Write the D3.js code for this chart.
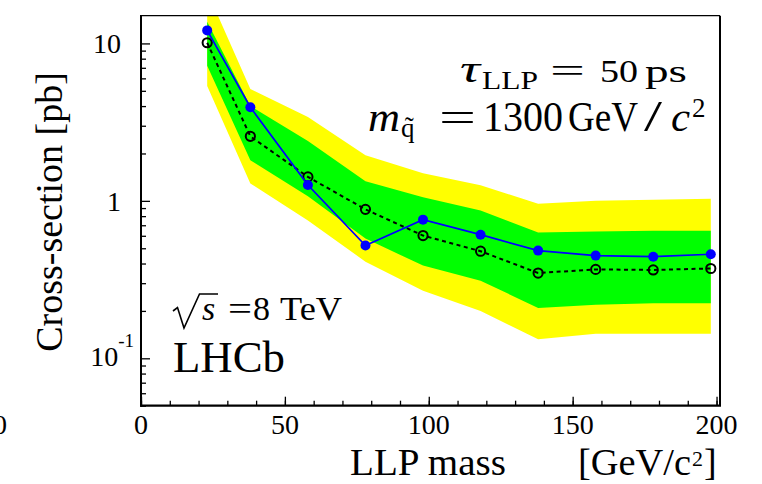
<!DOCTYPE html>
<html><head><meta charset="utf-8">
<script src="https://cdn.jsdelivr.net/npm/d3@7"></script>
<style>body{margin:0;background:#fff} svg{display:block}</style>
</head><body>
<svg id="c" width="762" height="484"></svg>
<script>
// ---- data ----
const mass      = [23, 38, 58, 78, 98, 118, 138, 158, 178, 198];
const observed  = [12.1, 3.93, 1.26, 0.52, 0.76, 0.61, 0.483, 0.449, 0.442, 0.458];
const expected  = [10.1, 2.57, 1.42, 0.883, 0.602, 0.479, 0.348, 0.367, 0.364, 0.372];
const band1Lo   = [7.21, 1.81, 1.07, 0.576, 0.388, 0.311, 0.209, 0.219, 0.224, 0.224];
const band1Hi   = [13.75, 4.0, 2.40, 1.33, 1.053, 0.870, 0.63, 0.64, 0.645, 0.645];
const band2Lo   = [5.37, 1.29, 0.751, 0.411, 0.269, 0.200, 0.132, 0.143, 0.143, 0.143];
const band2Hi   = [21.4, 5.14, 3.41, 1.95, 1.50, 1.256, 0.960, 1.0, 1.018, 1.033];

const xMajorTicks = [0, 50, 100, 150, 200];
const xMajorLabels = ["0", "50", "100", "150", "200"];
const xMinorTicks = d3.range(0, 201, 10);
const yMajorTicks = [0.1, 1, 10];
const yMajorLabels = [["10", "-1"], ["1", ""], ["10", ""]];
const yMinorTicks = [0.05,0.06,0.07,0.08,0.09,0.2,0.3,0.4,0.5,0.6,0.7,0.8,0.9,2,3,4,5,6,7,8,9];

// ---- layout ----
const svg = d3.select("#c");
const W = 762, H = 484;
const P = {left: 141, right: 720, top: 15.7, bottom: 405.7};
const FONT = "'Liberation Serif', 'Times New Roman', serif";
svg.append("rect").attr("width", W).attr("height", H).attr("fill", "#fff");

const x = d3.scaleLinear().domain([0, 201.2]).range([P.left, P.right]);
const y = d3.scaleLog().domain([0.05, 15]).range([P.bottom, P.top]);

svg.append("clipPath").attr("id", "clip").append("rect")
  .attr("x", P.left).attr("y", P.top).attr("width", P.right - P.left).attr("height", P.bottom - P.top);

const g = svg.append("g").attr("clip-path", "url(#clip)");
const idx = d3.range(mass.length);

const area2 = d3.area().x(i => x(mass[i])).y0(i => y(band2Lo[i])).y1(i => y(band2Hi[i]));
const area1 = d3.area().x(i => x(mass[i])).y0(i => y(band1Lo[i])).y1(i => y(band1Hi[i]));
g.append("path").attr("d", area2(idx)).attr("fill", "#ffff00");
g.append("path").attr("d", area1(idx)).attr("fill", "#00ff00");

const lineExp = d3.line().x(i => x(mass[i])).y(i => y(expected[i]));
const lineObs = d3.line().x(i => x(mass[i])).y(i => y(observed[i]));

g.append("path").attr("d", lineExp(idx)).attr("fill", "none")
  .attr("stroke", "#000").attr("stroke-width", 2).attr("stroke-dasharray", "4,3.5");
g.selectAll("circle.exp").data(idx).join("circle").attr("class", "exp")
  .attr("cx", i => x(mass[i])).attr("cy", i => y(expected[i])).attr("r", 4.6)
  .attr("fill", "none").attr("stroke", "#000").attr("stroke-width", 2);

g.append("path").attr("d", lineObs(idx)).attr("fill", "none")
  .attr("stroke", "#0000ff").attr("stroke-width", 1.7);
g.selectAll("circle.obs").data(idx).join("circle").attr("class", "obs")
  .attr("cx", i => x(mass[i])).attr("cy", i => y(observed[i])).attr("r", 5)
  .attr("fill", "#0000ff");

// ---- axes ----
function styleAxis(sel) {
  sel.select(".domain").remove();
  sel.selectAll("line").attr("stroke", "#000").attr("stroke-width", 1.3);
  sel.selectAll("text").remove();
}
svg.append("g").attr("transform", `translate(0,${P.bottom})`)
  .call(d3.axisBottom(x).tickValues(xMajorTicks).tickSize(-9).tickFormat(() => "")).call(styleAxis);
svg.append("g").attr("transform", `translate(0,${P.bottom})`)
  .call(d3.axisBottom(x).tickValues(xMinorTicks).tickSize(-5).tickFormat(() => "")).call(styleAxis);
svg.append("g").attr("transform", `translate(${P.left},0)`)
  .call(d3.axisLeft(y).tickValues(yMajorTicks).tickSize(-9).tickFormat(() => "")).call(styleAxis);
svg.append("g").attr("transform", `translate(${P.left},0)`)
  .call(d3.axisLeft(y).tickValues(yMinorTicks).tickSize(-5).tickFormat(() => "")).call(styleAxis);

// frame
svg.append("line").attr("x1", P.left).attr("x2", P.right).attr("y1", P.top).attr("y2", P.top)
  .attr("stroke", "#000").attr("stroke-width", 1.2);
svg.append("line").attr("x1", P.right).attr("x2", P.right).attr("y1", P.top).attr("y2", P.bottom)
  .attr("stroke", "#000").attr("stroke-width", 2);
svg.append("line").attr("x1", P.left).attr("x2", P.left).attr("y1", P.top - 0.6).attr("y2", P.bottom + 1)
  .attr("stroke", "#000").attr("stroke-width", 2);
svg.append("line").attr("x1", P.left - 1).attr("x2", P.right + 1).attr("y1", P.bottom).attr("y2", P.bottom)
  .attr("stroke", "#000").attr("stroke-width", 2.2);

// tick labels
svg.selectAll("text.xl").data(xMajorTicks).join("text").attr("class", "xl")
  .attr("x", d => x(d)).attr("y", 434).attr("text-anchor", "middle")
  .attr("font-family", FONT).attr("font-size", 28).text((d, i) => xMajorLabels[i]);
// neighbouring panel's "0" at the far left edge
svg.append("text").attr("x", 0).attr("y", 434).attr("text-anchor", "middle")
  .attr("font-family", FONT).attr("font-size", 28).text("0");

yMajorTicks.forEach((v, i) => {
  const [base, exp] = yMajorLabels[i];
  const t = svg.append("text").attr("font-family", FONT).attr("font-size", 28)
    .attr("text-anchor", "end");
  if (exp) {
    t.attr("x", 134).attr("y", y(v) + 8);
    t.append("tspan").text(base);
    t.append("tspan").attr("font-size", 19).attr("dy", -19).text(exp);
  } else {
    t.attr("x", 121).attr("y", y(v) + 10).text(base);
  }
});

// axis titles
svg.append("text").attr("transform", "translate(62,212) rotate(-90)")
  .attr("text-anchor", "middle").attr("font-family", FONT).attr("font-size", 38)
  .text("Cross-section [pb]");
svg.append("text").attr("x", 350).attr("y", 475).attr("font-family", FONT).attr("font-size", 38)
  .attr("textLength", 156).attr("lengthAdjust", "spacingAndGlyphs").text("LLP mass");
svg.append("text").attr("x", 578).attr("y", 475).attr("font-family", FONT).attr("font-size", 38)
  .attr("textLength", 113).attr("lengthAdjust", "spacingAndGlyphs").text("[GeV/c");
svg.append("text").attr("x", 692).attr("y", 466).attr("font-family", FONT).attr("font-size", 22).text("2");
svg.append("text").attr("x", 704).attr("y", 475).attr("font-family", FONT).attr("font-size", 38).text("]");

// annotations
function seg(t, xx, yy, size, opts = {}) {
  const e = svg.append("text").attr("x", xx).attr("y", yy).attr("font-family", opts.family || FONT)
    .attr("font-size", size).text(t);
  if (opts.italic) e.attr("font-style", "italic");
  if (opts.len) e.attr("textLength", opts.len).attr("lengthAdjust", "spacingAndGlyphs");
  return e;
}
// line 1: tau_LLP = 50 ps
seg("τ", 460, 82, 38, {italic: true, len: 20});
seg("LLP", 482, 88.5, 25, {len: 56});
seg("=", 550, 82, 33, {len: 35});
seg("50", 600, 82, 32, {len: 38});
seg("ps", 645, 82, 32, {len: 42});
// line 2: m_q~ = 1300 GeV/c^2
seg("m", 368, 130.5, 42, {italic: true, len: 32});
seg("q\u0303", 401, 137, 27);
seg("=", 439, 130.5, 42, {len: 37});
seg("1300", 483, 130.7, 43, {len: 80});
seg("GeV", 568, 130.7, 43, {len: 70});
seg("/", 644, 131, 44, {len: 18});
seg("c", 671, 130.7, 43, {italic: true});
seg("2", 692, 116.7, 27);

// sqrt(s) = 8 TeV
svg.append("path").attr("d", "M173,311 L177.5,307.5 L184,328 L199.5,294 L218,294")
  .attr("fill", "none").attr("stroke", "#000").attr("stroke-width", 1.6).attr("stroke-linejoin", "miter");
seg("s", 202, 319.5, 34, {italic: true});
seg("=", 228, 319.5, 34, {len: 24});
seg("8", 253, 319.5, 34);
seg("TeV", 280, 319.5, 34, {len: 62});
seg("LHCb", 173, 372, 45, {len: 112});
</script>
</body></html>
